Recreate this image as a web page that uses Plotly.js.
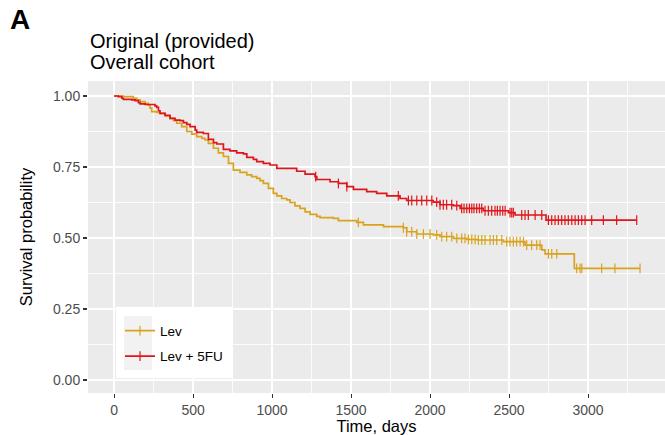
<!DOCTYPE html>
<html>
<head>
<meta charset="utf-8">
<script src="https://cdn.plot.ly/plotly-3.0.1.min.js"></script>
<style>
  html, body { margin: 0; padding: 0; background: #ffffff; }
  #chart { width: 665px; height: 435px; }
</style>
</head>
<body>
<div id="chart"></div>
<script>
// Kaplan–Meier estimates, overall survival by treatment arm (time in days)
const levTimes = [0, 59, 122, 143, 165, 196, 217, 228, 238, 270, 291, 323, 354, 376, 397, 428, 460, 492, 523, 555, 576, 597, 629, 660, 692, 724, 755, 797, 840, 871, 903, 924, 945, 977, 1008, 1030, 1061, 1093, 1114, 1145, 1177, 1209, 1241, 1283, 1304, 1388, 1420, 1536, 1578, 1705, 1831, 1852, 1915, 2021, 2063, 2148, 2232, 2300, 2464, 2601, 2707, 2728, 2913];
const levSurv  = [1.000, 0.998, 0.992, 0.986, 0.980, 0.974, 0.968, 0.957, 0.945, 0.942, 0.939, 0.930, 0.921, 0.913, 0.904, 0.892, 0.875, 0.866, 0.857, 0.851, 0.845, 0.833, 0.816, 0.800, 0.787, 0.763, 0.739, 0.731, 0.722, 0.716, 0.710, 0.702, 0.692, 0.675, 0.657, 0.648, 0.639, 0.634, 0.625, 0.613, 0.604, 0.592, 0.583, 0.576, 0.572, 0.569, 0.561, 0.555, 0.546, 0.540, 0.536, 0.522, 0.514, 0.511, 0.505, 0.499, 0.495, 0.493, 0.487, 0.475, 0.458, 0.444, 0.393];
const levEnd = 3329;
const levCensor = [1546, 1831, 1852, 1884, 1916, 1958, 2000, 2042, 2074, 2105, 2137, 2169, 2200, 2221, 2243, 2264, 2285, 2306, 2327, 2348, 2380, 2401, 2422, 2454, 2485, 2506, 2527, 2548, 2570, 2591, 2612, 2643, 2675, 2696, 2749, 2770, 2802, 2928, 2949, 2960, 3086, 3170, 3329];

const lev5fuTimes = [0, 27, 49, 59, 112, 133, 154, 165, 196, 259, 270, 281, 291, 323, 354, 386, 418, 439, 460, 481, 513, 523, 565, 597, 629, 650, 692, 734, 776, 819, 840, 882, 903, 945, 987, 1030, 1156, 1209, 1272, 1283, 1367, 1420, 1473, 1515, 1599, 1662, 1726, 1810, 1852, 2020, 2063, 2147, 2190, 2337, 2496, 2538, 2734];
const lev5fuSurv  = [1.000, 0.998, 0.992, 0.988, 0.986, 0.984, 0.977, 0.972, 0.970, 0.965, 0.960, 0.948, 0.939, 0.932, 0.921, 0.915, 0.913, 0.906, 0.900, 0.892, 0.880, 0.872, 0.868, 0.847, 0.836, 0.831, 0.812, 0.807, 0.800, 0.796, 0.784, 0.777, 0.769, 0.763, 0.757, 0.745, 0.735, 0.725, 0.716, 0.706, 0.698, 0.692, 0.681, 0.671, 0.663, 0.657, 0.648, 0.639, 0.632, 0.626, 0.617, 0.614, 0.604, 0.596, 0.589, 0.581, 0.563];
const lev5fuEnd = 3308;
const lev5fuCensor = [1276, 1420, 1473, 1799, 1863, 1884, 1916, 1947, 1979, 2011, 2042, 2063, 2084, 2105, 2137, 2169, 2200, 2215, 2232, 2249, 2264, 2278, 2295, 2312, 2327, 2348, 2369, 2390, 2411, 2426, 2443, 2460, 2475, 2506, 2517, 2527, 2580, 2601, 2622, 2665, 2707, 2749, 2770, 2791, 2812, 2833, 2854, 2875, 2897, 2918, 2939, 2960, 2981, 3023, 3097, 3181, 3308];

const groupNames = ['Lev', 'Lev + 5FU'];
const groupColors = ['#D9A31E', '#E0151B'];
const xTicks = [0, 500, 1000, 1500, 2000, 2500, 3000];
const yTicks = [0, 0.25, 0.5, 0.75, 1];
const yTickText = ['0.00', '0.25', '0.50', '0.75', '1.00'];

// step value of a KM curve at time t
function survAt(times, surv, t) {
  let v = surv[0];
  for (let i = 0; i < times.length; i++) {
    if (times[i] <= t) v = surv[i]; else break;
  }
  return v;
}

function groupTraces(name, color, times, surv, end, censor, idx) {
  const xs = times.concat([end]);
  const ys = surv.concat([surv[surv.length - 1]]);
  return [
    {
      x: xs, y: ys, type: 'scatter', mode: 'lines',
      line: { shape: 'hv', color: color, width: 1.7 },
      name: name, legendgroup: 'g' + idx, showlegend: false, hoverinfo: 'skip'
    },
    {
      x: censor, y: censor.map(t => survAt(times, surv, t)),
      type: 'scatter', mode: 'markers',
      marker: { symbol: 'line-ns', size: 7, line: { color: color, width: 1.2 } },
      name: name, legendgroup: 'g' + idx, showlegend: false, hoverinfo: 'skip'
    },
    // legend entry: line with a censor tick
    {
      x: [null], y: [null], type: 'scatter', mode: 'lines+markers',
      line: { color: color, width: 1.7 },
      marker: { symbol: 'line-ns', size: 7, line: { color: color, width: 1.2 } },
      name: name, legendgroup: 'g' + idx, showlegend: true
    }
  ];
}

const data = []
  .concat(groupTraces(groupNames[0], groupColors[0], levTimes, levSurv, levEnd, levCensor, 0))
  .concat(groupTraces(groupNames[1], groupColors[1], lev5fuTimes, lev5fuSurv, lev5fuEnd, lev5fuCensor, 1));

const fontFam = '"Liberation Sans", Arial, Helvetica, sans-serif';

const layout = {
  width: 665, height: 435,
  margin: { l: 88, r: 0, t: 81, b: 42, pad: 0 },
  paper_bgcolor: '#FFFFFF',
  plot_bgcolor: '#EBEBEB',
  font: { family: fontFam, color: '#000000' },
  showlegend: true,
  xaxis: {
    range: [-165, 3487],
    tickvals: xTicks,
    ticks: 'outside', ticklen: 4, tickwidth: 1.1, tickcolor: '#333333',
    tickfont: { size: 14, color: '#4D4D4D', family: fontFam },
    showgrid: true, gridcolor: '#FFFFFF', gridwidth: 1.7,
    minor: { dtick: 250, tick0: 0, showgrid: true, gridcolor: '#FFFFFF', gridwidth: 0.85, ticks: '' },
    zeroline: false, showline: false,
    title: { text: 'Time, days', font: { size: 16.5, color: '#000000', family: fontFam }, standoff: 6 }
  },
  yaxis: {
    range: [-0.0458, 1.0528],
    tickvals: yTicks, ticktext: yTickText,
    ticks: 'outside', ticklen: 4, tickwidth: 1.1, tickcolor: '#333333',
    tickfont: { size: 14, color: '#4D4D4D', family: fontFam },
    showgrid: true, gridcolor: '#FFFFFF', gridwidth: 1.7,
    minor: { dtick: 0.125, tick0: 0, showgrid: true, gridcolor: '#FFFFFF', gridwidth: 0.85, ticks: '' },
    zeroline: false, showline: false,
    title: { text: 'Survival probability', font: { size: 16.5, color: '#000000', family: fontFam }, standoff: 16 }
  },
  legend: {
    x: 0.0555, y: 0.249, xanchor: 'left', yanchor: 'top',
    bgcolor: 'rgba(0,0,0,0)', borderwidth: 0,
    font: { size: 13.5, color: '#000000', family: fontFam },
    traceorder: 'grouped', tracegroupgap: 5
  },
  shapes: [
    { type: 'rect', xref: 'paper', yref: 'paper', x0: 0.0485, x1: 0.2513, y0: 0.048, y1: 0.2756,
      fillcolor: '#FFFFFF', line: { width: 0 }, layer: 'above' },
    { type: 'rect', xref: 'paper', yref: 'paper', x0: 0.0624, x1: 0.1109, y0: 0.0737, y1: 0.2468,
      fillcolor: '#F2F2F2', line: { width: 0 }, layer: 'above' }
  ],
  annotations: [
    { text: '<b>A</b>', xref: 'paper', yref: 'paper', x: -0.1386, y: 1.197, xanchor: 'left', yanchor: 'middle',
      showarrow: false, font: { size: 28, color: '#000000', family: fontFam } },
    { text: 'Original (provided)', xref: 'paper', yref: 'paper', x: 0, y: (393 - 41) / 312, xanchor: 'left', yanchor: 'middle',
      showarrow: false, font: { size: 20, color: '#000000', family: fontFam } },
    { text: 'Overall cohort', xref: 'paper', yref: 'paper', x: 0, y: (393 - 62) / 312, xanchor: 'left', yanchor: 'middle',
      showarrow: false, font: { size: 20, color: '#000000', family: fontFam } }
  ]
};

Plotly.newPlot('chart', data, layout, { displayModeBar: false, staticPlot: true });
</script>
</body>
</html>
